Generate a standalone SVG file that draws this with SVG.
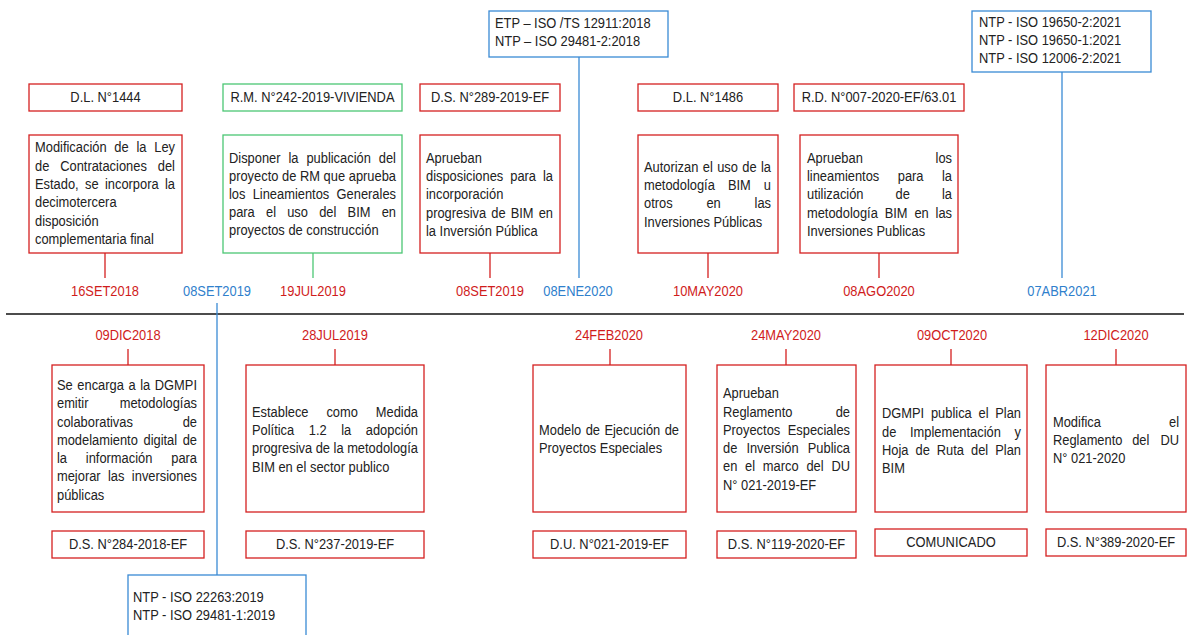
<svg xmlns="http://www.w3.org/2000/svg" width="1187" height="635" viewBox="0 0 1187 635">
  <style>
    text { font-family: "Liberation Sans", Arial, sans-serif; font-size: 14.5px; }
    .b { fill: #222; }
    .t { fill: #222; text-anchor: middle; }
    .e { text-anchor: end; }
    .dr { fill: #d01c1c; text-anchor: middle; }
    .db { fill: #2f80cc; text-anchor: middle; }
    .red { fill: #fff; stroke: #d42020; stroke-width: 1.3; }
    .grn { fill: #fff; stroke: #4cc774; stroke-width: 1.3; }
    .blu { fill: #fff; stroke: #3a8ad4; stroke-width: 1.3; }
    .lr { stroke: #d42020; stroke-width: 1.3; }
    .lg { stroke: #4cc774; stroke-width: 1.3; }
    .lb { stroke: #3a8ad4; stroke-width: 1.3; }
  </style>
  <!-- text runs are set in a condensed face: each text group is squeezed to 8/9 width,
       so x values inside those groups are page x * 1.125; justified lines place each word -->

  <!-- connectors: timeline axis and stems -->
  <g id="connectors" fill="none">
    <line x1="6" y1="314" x2="1184" y2="314" stroke="#111" stroke-width="1.6"/>
    <line class="lr" x1="105" y1="253" x2="105" y2="278"/>
    <line class="lg" x1="313" y1="253" x2="313" y2="278"/>
    <line class="lr" x1="490" y1="253" x2="490" y2="278"/>
    <line class="lr" x1="708" y1="253" x2="708" y2="278"/>
    <line class="lr" x1="879" y1="253" x2="879" y2="278"/>
    <line class="lb" x1="579" y1="57" x2="579" y2="278"/>
    <line class="lb" x1="1062" y1="72" x2="1062" y2="278"/>
    <line class="lb" x1="217" y1="303" x2="217" y2="575"/>
    <line class="lr" x1="128" y1="349" x2="128" y2="365"/>
    <line class="lr" x1="335" y1="349" x2="335" y2="365"/>
    <line class="lr" x1="610" y1="349" x2="610" y2="365"/>
    <line class="lr" x1="786" y1="349" x2="786" y2="365"/>
    <line class="lr" x1="951" y1="349" x2="951" y2="365"/>
    <line class="lr" x1="1116" y1="349" x2="1116" y2="365"/>
  </g>

  <!-- upper events -->
  <g id="ev-dl1444">
    <rect class="red" x="29" y="84" width="153" height="27"/>
    <rect class="red" x="29" y="135" width="153" height="118"/>
    <g transform="scale(0.888889 1)">
      <text class="t" x="118.69" y="102">D.L. N°1444</text>
      <text class="b" y="152.5"><tspan x="39.375">Modificación</tspan><tspan x="128.67">de</tspan><tspan x="153.51">la</tspan><tspan class="e" x="196.875">Ley</tspan></text>
      <text class="b" y="170.8"><tspan x="39.375">de</tspan><tspan x="67.76">Contrataciones</tspan><tspan class="e" x="196.875">del</tspan></text>
      <text class="b" y="189.1"><tspan x="39.375">Estado,</tspan><tspan x="95.65">se</tspan><tspan x="118.06">incorpora</tspan><tspan class="e" x="196.875">la</tspan></text>
      <text class="b" x="39.375" y="207.4">decimotercera</text>
      <text class="b" x="39.375" y="225.7">disposición</text>
      <text class="b" x="39.375" y="244">complementaria final</text>
      <text class="dr" x="118.125" y="296">16SET2018</text>
    </g>
  </g>

  <g id="ev-rm242">
    <rect class="grn" x="223" y="84" width="179" height="27"/>
    <rect class="grn" x="223" y="135" width="179" height="118"/>
    <g transform="scale(0.888889 1)">
      <text class="t" x="351.56" y="102">R.M. N°242-2019-VIVIENDA</text>
      <text class="b" y="162.7"><tspan x="257.625">Disponer</tspan><tspan x="324.54">la</tspan><tspan x="344.72">publicación</tspan><tspan class="e" x="445.5">del</tspan></text>
      <text class="b" y="180.8"><tspan x="257.625">proyecto</tspan><tspan x="317.29">de</tspan><tspan x="337.46">RM</tspan><tspan x="364.06">que</tspan><tspan class="e" x="445.5">aprueba</tspan></text>
      <text class="b" y="198.9"><tspan x="257.625">los</tspan><tspan x="284.27">Lineamientos</tspan><tspan class="e" x="445.5">Generales</tspan></text>
      <text class="b" y="217"><tspan x="257.625">para</tspan><tspan x="299.23">el</tspan><tspan x="323.11">uso</tspan><tspan x="359.08">del</tspan><tspan x="391.02">BIM</tspan><tspan class="e" x="445.5">en</tspan></text>
      <text class="b" x="257.625" y="235.1">proyectos de construcción</text>
      <text class="dr" x="352.125" y="296">19JUL2019</text>
    </g>
  </g>

  <g id="ev-ds289">
    <rect class="red" x="420" y="84" width="140" height="27"/>
    <rect class="red" x="420" y="135" width="140" height="118"/>
    <g transform="scale(0.888889 1)">
      <text class="t" x="551.25" y="102">D.S. N°289-2019-EF</text>
      <text class="b" x="479.25" y="163.3">Aprueban</text>
      <text class="b" y="181.4"><tspan x="479.25">disposiciones</tspan><tspan x="574.06">para</tspan><tspan class="e" x="622.125">la</tspan></text>
      <text class="b" x="479.25" y="199.5">incorporación</text>
      <text class="b" y="217.6"><tspan x="479.25">progresiva</tspan><tspan x="552.66">de</tspan><tspan x="574.5">BIM</tspan><tspan class="e" x="622.125">en</tspan></text>
      <text class="b" x="479.25" y="235.7">la Inversión Pública</text>
      <text class="dr" x="551.25" y="296">08SET2019</text>
    </g>
  </g>

  <g id="ev-etp12911">
    <rect class="blu" x="489" y="11" width="179" height="46"/>
    <g transform="scale(0.888889 1)">
      <text class="b" x="556.875" y="28.3">ETP – ISO /TS 12911:2018</text>
      <text class="b" x="556.875" y="46.5">NTP – ISO 29481-2:2018</text>
      <text class="db" x="650.25" y="296">08ENE2020</text>
    </g>
  </g>

  <g id="ev-dl1486">
    <rect class="red" x="638" y="84" width="140" height="27"/>
    <rect class="red" x="638" y="135" width="140" height="118"/>
    <g transform="scale(0.888889 1)">
      <text class="t" x="796.5" y="102">D.L. N°1486</text>
      <text class="b" y="171.7"><tspan x="724.5">Autorizan</tspan><tspan x="790.64">el</tspan><tspan x="806.81">uso</tspan><tspan x="835.07">de</tspan><tspan class="e" x="867.375">la</tspan></text>
      <text class="b" y="190"><tspan x="724.5">metodología</tspan><tspan x="818.91">BIM</tspan><tspan class="e" x="867.375">u</tspan></text>
      <text class="b" y="208.3"><tspan x="724.5">otros</tspan><tspan x="794.73">en</tspan><tspan class="e" x="867.375">las</tspan></text>
      <text class="b" x="724.5" y="226.6">Inversiones Públicas</text>
      <text class="dr" x="796.5" y="296">10MAY2020</text>
    </g>
  </g>

  <g id="ev-rd007">
    <rect class="red" x="794" y="84" width="170" height="27"/>
    <rect class="red" x="800" y="135" width="158" height="118"/>
    <g transform="scale(0.888889 1)">
      <text class="t" x="988.875" y="102">R.D. N°007-2020-EF/63.01</text>
      <text class="b" y="163.3"><tspan x="907.875">Aprueban</tspan><tspan class="e" x="1071">los</tspan></text>
      <text class="b" y="181.4"><tspan x="907.875">lineamientos</tspan><tspan x="1009.99">para</tspan><tspan class="e" x="1071">la</tspan></text>
      <text class="b" y="199.5"><tspan x="907.875">utilización</tspan><tspan x="1007.57">de</tspan><tspan class="e" x="1071">la</tspan></text>
      <text class="b" y="217.6"><tspan x="907.875">metodología</tspan><tspan x="995.3">BIM</tspan><tspan x="1028.72">en</tspan><tspan class="e" x="1071">las</tspan></text>
      <text class="b" x="907.875" y="235.7">Inversiones Publicas</text>
      <text class="dr" x="988.875" y="296">08AGO2020</text>
    </g>
  </g>

  <g id="ev-ntp19650">
    <rect class="blu" x="972" y="11" width="179" height="61"/>
    <g transform="scale(0.888889 1)">
      <text class="b" x="1101.375" y="26.7">NTP - ISO 19650-2:2021</text>
      <text class="b" x="1101.375" y="44.8">NTP - ISO 19650-1:2021</text>
      <text class="b" x="1101.375" y="62.9">NTP - ISO 12006-2:2021</text>
      <text class="db" x="1194.75" y="296">07ABR2021</text>
    </g>
  </g>

  <g id="ev-ntp22263">
    <rect class="blu" x="128" y="575" width="178" height="70"/>
    <g transform="scale(0.888889 1)">
      <text class="db" x="244.125" y="296">08SET2019</text>
      <text class="b" x="149.625" y="602">NTP - ISO 22263:2019</text>
      <text class="b" x="149.625" y="620">NTP - ISO 29481-1:2019</text>
    </g>
  </g>

  <!-- lower events -->
  <g id="ev-ds284">
    <rect class="red" x="52" y="365" width="152" height="147"/>
    <rect class="red" x="52" y="531" width="152" height="27"/>
    <g transform="scale(0.888889 1)">
      <text class="dr" x="144" y="340">09DIC2018</text>
      <text class="b" y="390"><tspan x="64.125">Se</tspan><tspan x="86.99">encarga</tspan><tspan x="144.51">a</tspan><tspan x="157.7">la</tspan><tspan class="e" x="221.625">DGMPI</tspan></text>
      <text class="b" y="408.3"><tspan x="64.125">emitir</tspan><tspan class="e" x="221.625">metodologías</tspan></text>
      <text class="b" y="426.6"><tspan x="64.125">colaborativas</tspan><tspan class="e" x="221.625">de</tspan></text>
      <text class="b" y="444.9"><tspan x="64.125">modelamiento</tspan><tspan x="161.42">digital</tspan><tspan class="e" x="221.625">de</tspan></text>
      <text class="b" y="463.2"><tspan x="64.125">la</tspan><tspan x="96.54">información</tspan><tspan class="e" x="221.625">para</tspan></text>
      <text class="b" y="481.5"><tspan x="64.125">mejorar</tspan><tspan x="121.52">las</tspan><tspan class="e" x="221.625">inversiones</tspan></text>
      <text class="b" x="64.125" y="499.8">públicas</text>
      <text class="t" x="144" y="549.5">D.S. N°284-2018-EF</text>
    </g>
  </g>

  <g id="ev-ds237">
    <rect class="red" x="246" y="365" width="178" height="147"/>
    <rect class="red" x="246" y="531" width="178" height="27"/>
    <g transform="scale(0.888889 1)">
      <text class="dr" x="376.875" y="340">28JUL2019</text>
      <text class="b" y="416.7"><tspan x="283.5">Establece</tspan><tspan x="367.21">como</tspan><tspan class="e" x="470.25">Medida</tspan></text>
      <text class="b" y="435"><tspan x="283.5">Política</tspan><tspan x="347.36">1.2</tspan><tspan x="383.83">la</tspan><tspan class="e" x="470.25">adopción</tspan></text>
      <text class="b" y="453.3"><tspan x="283.5">progresiva</tspan><tspan x="355.15">de</tspan><tspan x="375.23">la</tspan><tspan class="e" x="470.25">metodología</tspan></text>
      <text class="b" x="283.5" y="471.6">BIM en el sector publico</text>
      <text class="t" x="376.875" y="549.5">D.S. N°237-2019-EF</text>
    </g>
  </g>

  <g id="ev-du021">
    <rect class="red" x="533" y="365" width="153" height="147"/>
    <rect class="red" x="533" y="531" width="153" height="27"/>
    <g transform="scale(0.888889 1)">
      <text class="dr" x="685.125" y="340">24FEB2020</text>
      <text class="b" y="435"><tspan x="606.375">Modelo</tspan><tspan x="658.88">de</tspan><tspan x="679.95">Ejecución</tspan><tspan class="e" x="763.875">de</tspan></text>
      <text class="b" x="606.375" y="453.3">Proyectos Especiales</text>
      <text class="t" x="685.69" y="549.5">D.U. N°021-2019-EF</text>
    </g>
  </g>

  <g id="ev-ds119">
    <rect class="red" x="717" y="365" width="139" height="147"/>
    <rect class="red" x="717" y="531" width="139" height="27"/>
    <g transform="scale(0.888889 1)">
      <text class="dr" x="884.25" y="340">24MAY2020</text>
      <text class="b" x="813.375" y="398.3">Aprueban</text>
      <text class="b" y="416.6"><tspan x="813.375">Reglamento</tspan><tspan class="e" x="956.25">de</tspan></text>
      <text class="b" y="434.9"><tspan x="813.375">Proyectos</tspan><tspan class="e" x="956.25">Especiales</tspan></text>
      <text class="b" y="453.2"><tspan x="813.375">de</tspan><tspan x="839.69">Inversión</tspan><tspan class="e" x="956.25">Publica</tspan></text>
      <text class="b" y="471.5"><tspan x="813.375">en</tspan><tspan x="838.23">el</tspan><tspan x="858.24">marco</tspan><tspan x="907.25">del</tspan><tspan class="e" x="956.25">DU</tspan></text>
      <text class="b" x="813.375" y="489.8">N° 021-2019-EF</text>
      <text class="t" x="884.81" y="549.5">D.S. N°119-2020-EF</text>
    </g>
  </g>

  <g id="ev-comunicado">
    <rect class="red" x="875" y="365" width="152" height="147"/>
    <rect class="red" x="875" y="529" width="152" height="27"/>
    <g transform="scale(0.888889 1)">
      <text class="dr" x="1071" y="340">09OCT2020</text>
      <text class="b" y="418.3"><tspan x="992.25">DGMPI</tspan><tspan x="1047.32">publica</tspan><tspan x="1100.8">el</tspan><tspan class="e" x="1148.625">Plan</tspan></text>
      <text class="b" y="436.6"><tspan x="992.25">de</tspan><tspan x="1023.67">Implementación</tspan><tspan class="e" x="1148.625">y</tspan></text>
      <text class="b" y="454.9"><tspan x="992.25">Hoja</tspan><tspan x="1029.93">de</tspan><tspan x="1053.92">Ruta</tspan><tspan x="1092.41">del</tspan><tspan class="e" x="1148.625">Plan</tspan></text>
      <text class="b" x="992.25" y="473.2">BIM</text>
      <text class="t" x="1069.875" y="547.5">COMUNICADO</text>
    </g>
  </g>

  <g id="ev-ds389">
    <rect class="red" x="1046" y="365" width="140" height="147"/>
    <rect class="red" x="1046" y="529" width="140" height="27"/>
    <g transform="scale(0.888889 1)">
      <text class="dr" x="1255.5" y="340">12DIC2020</text>
      <text class="b" y="426.7"><tspan x="1184.625">Modifica</tspan><tspan class="e" x="1326.375">el</tspan></text>
      <text class="b" y="445"><tspan x="1184.625">Reglamento</tspan><tspan x="1273.72">del</tspan><tspan class="e" x="1326.375">DU</tspan></text>
      <text class="b" x="1184.625" y="463.3">N° 021-2020</text>
      <text class="t" x="1255.5" y="547.5">D.S. N°389-2020-EF</text>
    </g>
  </g>
</svg>
